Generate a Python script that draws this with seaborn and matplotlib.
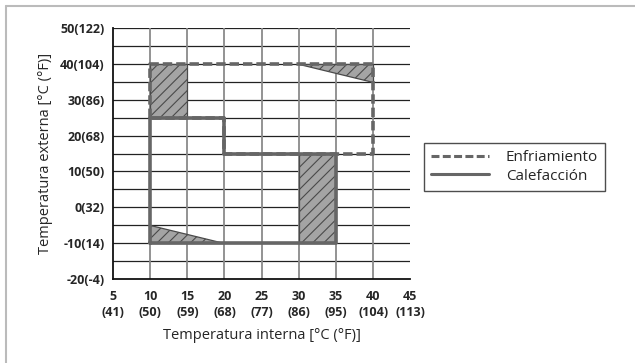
import matplotlib
matplotlib.use("Agg")
import matplotlib.pyplot as plt
import seaborn as sns
import pandas as pd
from matplotlib.lines import Line2D

sns.set_style("white")
plt.rcParams['font.family'] = ['Open Sans', 'DejaVu Sans']
plt.rcParams['hatch.linewidth'] = 0.8

# Data
cool_x = [10, 10, 40, 40, 20, 20, 10]
cool_y = [25, 40, 40, 15, 15, 25, 25]
heat_x = [10, 10, 20, 20, 35, 35, 10]
heat_y = [-10, 25, 25, 15, 15, -10, -10]

hatch1_x = [10, 15, 15, 10]
hatch1_y = [25, 25, 40, 40]
hatch2_x = [30, 40, 40]
hatch2_y = [40, 40, 35]
hatch3_x = [30, 35, 35, 30]
hatch3_y = [-10, -10, 15, 15]
hatch4_x = [10, 10, 20]
hatch4_y = [-5, -10, -10]

x_ticks = [5, 10, 15, 20, 25, 30, 35, 40, 45]
x_labels = ["5\n(41)", "10\n(50)", "15\n(59)", "20\n(68)", "25\n(77)",
            "30\n(86)", "35\n(95)", "40\n(104)", "45\n(113)"]
y_ticks = [-20, -10, 0, 10, 20, 30, 40, 50]
y_labels = ["-20(-4)", "-10(14)", "0(32)", "10(50)", "20(68)",
            "30(86)", "40(104)", "50(122)"]
series_names = ["Enfriamiento", "Calefacción"]

fig = plt.figure(figsize=(6.35, 3.63), dpi=100)
ax = fig.add_axes([0.178, 0.231, 0.468, 0.692])

# grid
for yv in range(-15, 51, 5):
    ax.axhline(yv, color='#222222', lw=0.9, zorder=1)
for xv in range(10, 41, 5):
    ax.axvline(xv, color='#8a8a8a', lw=1.3, zorder=1)

# hatched regions
for hx, hy in [(hatch1_x, hatch1_y), (hatch2_x, hatch2_y),
               (hatch3_x, hatch3_y), (hatch4_x, hatch4_y)]:
    ax.fill(hx, hy, facecolor='#a4a4a4', edgecolor='#4a4a4a',
            hatch='///', lw=0.9, zorder=2)

df_cool = pd.DataFrame({'x': cool_x, 'y': cool_y})
df_heat = pd.DataFrame({'x': heat_x, 'y': heat_y})
sns.lineplot(data=df_heat, x='x', y='y', sort=False, estimator=None, ax=ax,
             color='#666666', lw=2.6, zorder=3)
sns.lineplot(data=df_cool, x='x', y='y', sort=False, estimator=None, ax=ax,
             color='#666666', lw=2.6, zorder=4)
ax.lines[-1].set_linestyle((0, (2.6, 1.1)))

ax.set_xlim(5, 45)
ax.set_ylim(-20, 50)
ax.set_xticks(x_ticks)
ax.set_xticklabels(x_labels, fontsize=9, fontweight='bold', linespacing=1.25)
ax.set_yticks(y_ticks)
ax.set_yticklabels(y_labels, fontsize=9, fontweight='bold')
ax.tick_params(axis='both', length=0, pad=6)
ax.tick_params(axis='x', pad=8)

for s in ['top', 'right']:
    ax.spines[s].set_visible(False)
for s in ['left', 'bottom']:
    ax.spines[s].set_color('#111111')
    ax.spines[s].set_linewidth(1.3)

ax.set_xlabel("Temperatura interna [°C (°F)]", fontsize=10.5, labelpad=7)
ax.set_ylabel("Temperatura externa [°C (°F)]", fontsize=10.5, labelpad=5)

handles = [Line2D([0], [0], color='#666666', lw=2.2, linestyle=(0, (2.6, 1.1))),
           Line2D([0], [0], color='#666666', lw=2.2)]
leg = fig.legend(handles, series_names, loc='upper left',
                 bbox_to_anchor=(424 / 635, 1 - 143 / 363),
                 frameon=True, fancybox=False, fontsize=11, handlelength=3.8,
                 handletextpad=1.1, borderpad=0.45, labelspacing=0.25,
                 borderaxespad=0)
leg.get_frame().set_edgecolor('#222222')
leg.get_frame().set_linewidth(1.0)

# figure border (top and left)
fig.add_artist(Line2D([6 / 635, 6 / 635], [0, 1 - 6 / 363], color='#bbbbbb',
                      lw=1.5, transform=fig.transFigure))
fig.add_artist(Line2D([6 / 635, 1], [1 - 6 / 363, 1 - 6 / 363], color='#bbbbbb',
                      lw=1.5, transform=fig.transFigure))

fig.savefig("out.png", dpi=100)
